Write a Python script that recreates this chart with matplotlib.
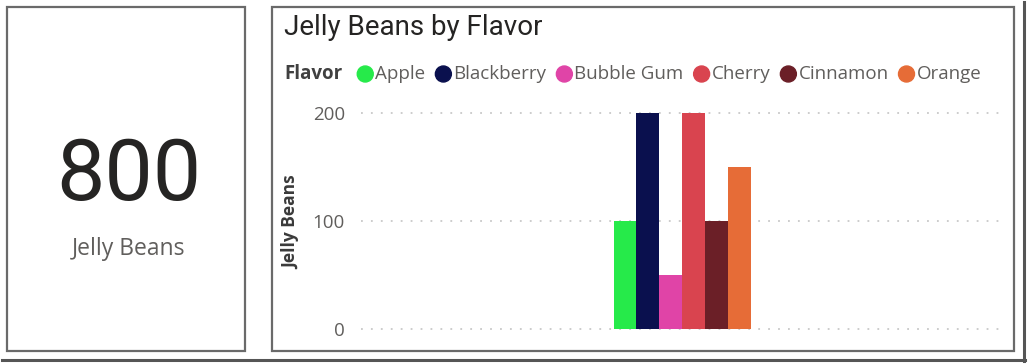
import matplotlib
matplotlib.use("Agg")
import matplotlib.pyplot as plt
from matplotlib.patches import Rectangle, Circle
from matplotlib.lines import Line2D

# ---------------- data ----------------
flavors = ["Apple", "Blackberry", "Bubble Gum", "Cherry", "Cinnamon", "Orange"]
counts = [100, 200, 50, 200, 100, 150]
colors = ["#26EA4A", "#0A104E", "#E044A7", "#D9444F", "#6B1F27", "#E66C37"]
y_ticks = [0, 100, 200]
card_value = "800"
card_label = "Jelly Beans"
chart_title = "Jelly Beans by Flavor"
legend_title = "Flavor"
y_label = "Jelly Beans"

W, H = 1028, 364
fig = plt.figure(figsize=(W / 100, H / 100), dpi=100)
fig.patch.set_facecolor("white")


def fx(x):
    return x / W


def fy(y):
    return 1 - y / H


def rect_px(x0, y0, x1, y1, **kw):
    r = Rectangle((fx(x0), fy(y1)), fx(x1) - fx(x0), fy(y0) - fy(y1),
                  transform=fig.transFigure, fill=False, **kw)
    fig.add_artist(r)


def line_px(xs, ys, **kw):
    fig.add_artist(Line2D([fx(x) for x in xs], [fy(y) for y in ys],
                          transform=fig.transFigure, **kw))


# outer frame shadow (right & bottom)
line_px([2, 1025], [360, 360], color="#555555", lw=2.2)
line_px([1024, 1024], [2, 361], color="#555555", lw=2.2)

# cards
rect_px(7, 7, 245, 351, edgecolor="#6A6A6A", lw=1.6)
rect_px(272, 7, 1014, 351, edgecolor="#6A6A6A", lw=1.6)

# card text
fig.text(fx(128.5), fy(176), card_value, ha="center", va="center",
         fontsize=62, family="Roboto", color="#252423")
fig.text(fx(129), fy(249), card_label, ha="center", va="center",
         fontsize=16.5, family="Open Sans", color="#605E5C")

# chart title
fig.text(fx(284), fy(35), chart_title, ha="left", va="baseline",
         fontsize=20, family="Roboto", color="#252423")

# ---------------- axes ----------------
ax_l, ax_r = 361, 1003
ax_t, ax_b = 110, 331
ax = fig.add_axes([fx(ax_l), fy(ax_b), fx(ax_r) - fx(ax_l), fy(ax_t) - fy(ax_b)])
px_per_unit = (328.7 - 112.7) / 200
ax.set_ylim(-(ax_b - 328.7) / px_per_unit, 200 + (112.7 - ax_t) / px_per_unit)
ax.set_xlim(-0.5, 0.5)

group_w = 137 / (ax_r - ax_l)
bw = group_w / len(flavors)
for i, (f, v, c) in enumerate(zip(flavors, counts, colors)):
    ax.bar(-group_w / 2 + bw * (i + 0.5), v, width=bw, color=c, edgecolor="none",
           zorder=3)

for t in y_ticks:
    ax.axhline(t, color="#C8C8C8", lw=1.3, linestyle=(0, (1, 4.5)), zorder=1)

ax.set_yticks(y_ticks)
ax.set_yticklabels([str(t) for t in y_ticks], family="Open Sans", fontsize=13.5,
                   color="#605E5C")
ax.tick_params(axis="y", length=0, pad=11.5)
ax.set_xticks([])
for s in ax.spines.values():
    s.set_visible(False)
ax.patch.set_alpha(0)

fig.text(fx(291), fy(222), y_label, rotation=90, ha="center", va="center",
         fontsize=12.5, family="Open Sans", fontweight="bold", color="#3A3A3A")

# ---------------- legend ----------------
fig.canvas.draw()
renderer = fig.canvas.get_renderer()
ly = 74
t = fig.text(fx(284), fy(ly), legend_title, ha="left", va="center",
             fontsize=13.5, family="Open Sans", fontweight="bold", color="#404040")
bb = t.get_window_extent(renderer)
x = bb.x1 + 15
r = 8
for f, c in zip(flavors, colors):
    circ = Circle((x + r, H - ly), r, transform=None, color=c)
    fig.add_artist(circ)
    x += 2 * r + 2
    tt = fig.text(fx(x), fy(ly), f, ha="left", va="center", fontsize=13.5,
                  family="Open Sans", color="#605E5C")
    x = tt.get_window_extent(renderer).x1 + 10

fig.savefig("out.png", dpi=100, facecolor="white")
